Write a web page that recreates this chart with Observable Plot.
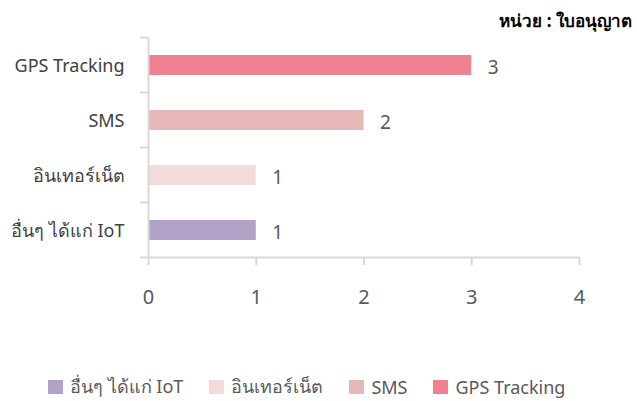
<!DOCTYPE html>
<html>
<head>
<meta charset="utf-8">
<script src="https://cdn.jsdelivr.net/npm/d3@7"></script>
<script src="https://cdn.jsdelivr.net/npm/@observablehq/plot@0.6"></script>
<style>
  body { margin: 0; background: #fff; font-family: "Noto Sans", "DejaVu Sans", sans-serif; }
  #title { height: 36px; box-sizing: border-box; text-align: right; padding-right: 5px; padding-top: 11px; font-weight: bold; font-size: 17px; line-height: 20px; color: #000; }
  #legend { display: flex; align-items: center; margin-left: 48px; margin-top: 36px; font-size: 18px; color: #595959; }
  .item { display: flex; align-items: center; margin-right: 26px; }
  .sw { width: 15px; height: 14px; margin-right: 7px; }
</style>
</head>
<body>
<div id="title">หน่วย : ใบอนุญาต</div>
<div id="chart"></div>
<div id="legend"></div>
<script>
const categories = ["GPS Tracking", "SMS", "อินเทอร์เน็ต", "อื่นๆ ได้แก่ IoT"];
const values = [3, 2, 1, 1];
const colors = ["#F08191", "#E6B9B8", "#F2DCDB", "#B3A2C7"];
const xTicks = [0, 1, 2, 3, 4];
const legendOrder = ["อื่นๆ ได้แก่ IoT", "อินเทอร์เน็ต", "SMS", "GPS Tracking"];

const data = categories.map((c, i) => ({category: c, value: values[i]}));
const axisColor = "#d9d9d9";
const textColor = "#595959";

const chart = Plot.plot({
  width: 637,
  height: 300,
  marginTop: 1,
  marginBottom: 79,
  marginLeft: 148,
  marginRight: 58,
  style: {fontFamily: '"Noto Sans", "DejaVu Sans", sans-serif', background: "#fff"},
  x: {domain: [0, 4], axis: null, label: null},
  y: {domain: categories, padding: 0, axis: null, label: null},
  color: {domain: categories, range: colors},
  marks: [
    Plot.barX(data, {x: "value", y: "category", fill: "category", insetTop: 18, insetBottom: 17}),
    Plot.text(data, {x: "value", y: "category", text: d => String(d.value), textAnchor: "start", dx: 16, dy: 3, fontSize: 19, fill: textColor}),
    Plot.axisY({tickSize: 0, tickPadding: 24, fontSize: 18, dy: 1, fill: "#404040", color: "#404040", label: null}),
    Plot.axisY(categories, {text: null, tickSize: 8, dy: -27.5, stroke: axisColor, strokeWidth: 2, strokeOpacity: 1, label: null}),
    Plot.axisY([categories[categories.length - 1]], {text: null, tickSize: 8, dy: 27.5, stroke: axisColor, strokeWidth: 2, strokeOpacity: 1, label: null}),
    Plot.ruleX([0], {stroke: axisColor, strokeWidth: 2}),
    Plot.ruleY([categories[categories.length - 1]], {x1: 0, x2: 4, dy: 27.5, stroke: axisColor, strokeWidth: 2}),
    Plot.axisX({ticks: xTicks, tickFormat: d => String(d), tickSize: 8, tickPadding: 24, fontSize: 20, stroke: axisColor, strokeWidth: 2, strokeOpacity: 1, fill: textColor, color: textColor, label: null})
  ]
});
document.getElementById("chart").appendChild(chart);

const legend = document.getElementById("legend");
legendOrder.forEach(name => {
  const item = document.createElement("div");
  item.className = "item";
  const sw = document.createElement("div");
  sw.className = "sw";
  sw.style.background = colors[categories.indexOf(name)];
  const label = document.createElement("span");
  label.textContent = name;
  item.appendChild(sw);
  item.appendChild(label);
  legend.appendChild(item);
});
</script>
</body>
</html>
